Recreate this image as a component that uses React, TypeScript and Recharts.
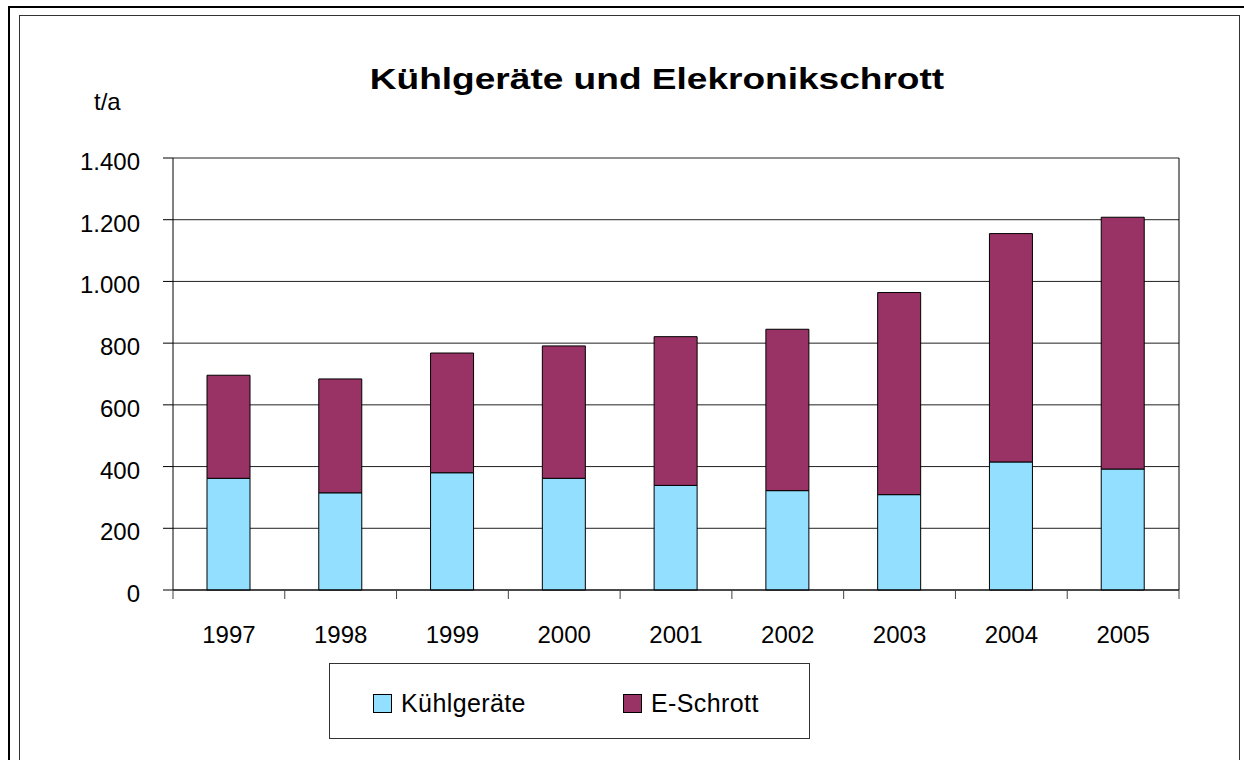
import { BarChart, Bar, XAxis, YAxis, CartesianGrid, Legend, ReferenceLine } from 'recharts'

const years = ['1997', '1998', '1999', '2000', '2001', '2002', '2003', '2004', '2005']
const kuehlgeraete = [362, 315, 380, 362, 339, 322, 309, 415, 392]
const eSchrott = [334, 369, 388, 429, 482, 523, 655, 740, 816]
const yTicks = [0, 200, 400, 600, 800, 1000, 1200, 1400]
const seriesOrder = ['kuehl', 'schrott']

const data = years.map((year, i) => ({
  year,
  kuehl: kuehlgeraete[i],
  schrott: eSchrott[i],
}))

const FONT = '"Liberation Sans", Arial, Helvetica, sans-serif'
const CHART_W = 1244
const CHART_H = 760
const Y_AXIS_W = 173
const MARGIN = { top: 158, right: 65, left: 0, bottom: 24 }
const BAND = (CHART_W - Y_AXIS_W - MARGIN.right) / years.length

// German thousands separator, e.g. 1.400
const fmt = (v: number) => String(v).replace(/\B(?=(\d{3})+(?!\d))/g, '.')

const YTick = ({ x, y, payload }: any) => (
  <text x={x} y={y} dy={12} textAnchor="end" fill="#000" fontSize={24} fontFamily={FONT}>
    {fmt(payload.value)}
  </text>
)

// Excel style: tick marks sit between the categories
const XTick = ({ x, y, payload, index }: any) => {
  const left = x - BAND / 2
  return (
    <g>
      <line x1={left} y1={y - 9} x2={left} y2={y} stroke="#444" />
      {index === years.length - 1 && (
        <line x1={x + BAND / 2} y1={y - 9} x2={x + BAND / 2} y2={y} stroke="#444" />
      )}
      <text x={x} y={y} dy={44} textAnchor="middle" fill="#000" fontSize={24} fontFamily={FONT}>
        {payload.value}
      </text>
    </g>
  )
}

const LegendBox = ({ payload }: any) => {
  const items = [...(payload || [])].sort(
    (a: any, b: any) => seriesOrder.indexOf(a.dataKey) - seriesOrder.indexOf(b.dataKey)
  )
  return (
    <div
      style={{
        width: 481,
        height: 76,
        boxSizing: 'border-box',
        border: '1px solid #333',
        background: '#fff',
        display: 'flex',
        alignItems: 'center',
        paddingTop: 5,
        paddingLeft: 43,
        fontFamily: FONT,
        fontSize: 25,
        letterSpacing: 0.4,
        color: '#000',
        overflow: 'hidden',
      }}
    >
      {items.map((p: any) => (
        <div key={p.value} style={{ display: 'flex', alignItems: 'center', width: 250, flexShrink: 0 }}>
          <span
            style={{
              display: 'inline-block',
              width: 19,
              height: 19,
              boxSizing: 'border-box',
              border: '1px solid #000',
              background: p.color,
              marginRight: 9,
            }}
          />
          <span>{p.value}</span>
        </div>
      ))}
    </div>
  )
}

export default function App() {
  return (
    <div
      style={{
        position: 'fixed',
        left: 0,
        top: 0,
        width: CHART_W,
        height: CHART_H,
        background: '#fff',
        overflow: 'hidden',
      }}
    >
      <div
        style={{
          position: 'absolute',
          left: 8,
          top: 6,
          width: 1300,
          height: 900,
          borderTop: '2px solid #000',
          borderLeft: '2px solid #000',
        }}
      />
      <div
        style={{
          position: 'absolute',
          left: 19,
          top: 15,
          width: 1219,
          height: 900,
          border: '1px solid #333',
        }}
      />
      <div
        style={{
          position: 'absolute',
          left: 0,
          top: 62,
          width: 1314,
          textAlign: 'center',
          lineHeight: '34px',
          fontFamily: FONT,
          fontWeight: 'bold',
          fontSize: 30,
          color: '#000',
          transform: 'scaleX(1.235)',
          transformOrigin: '657px 0',
        }}
      >
        Kühlgeräte und Elekronikschrott
      </div>
      <div
        style={{
          position: 'absolute',
          left: 94,
          top: 90,
          lineHeight: '24px',
          fontFamily: FONT,
          fontSize: 24,
          color: '#000',
        }}
      >
        t/a
      </div>
      <div style={{ position: 'absolute', left: 0, top: 0 }}>
        <BarChart width={CHART_W} height={CHART_H} data={data} margin={MARGIN}>
          <CartesianGrid vertical={false} stroke="#222" />
          <XAxis
            dataKey="year"
            axisLine={{ stroke: '#000' }}
            tickLine={false}
            tickSize={9}
            tickMargin={0}
            height={70}
            interval={0}
            tick={<XTick />}
          />
          <YAxis
            width={Y_AXIS_W}
            domain={[0, 1400]}
            ticks={yTicks}
            interval={0}
            axisLine={{ stroke: '#000' }}
            tickLine={{ stroke: '#000' }}
            tickSize={10}
            tickMargin={23}
            tick={<YTick />}
          />
          <ReferenceLine x="2005" position="end" stroke="#000" />
          <Legend
            verticalAlign="bottom"
            height={76}
            width={481}
            content={<LegendBox />}
            wrapperStyle={{ left: 329, top: 663, bottom: 'auto' }}
          />
          <Bar
            dataKey="kuehl"
            name="Kühlgeräte"
            stackId="a"
            fill="#93DFFF"
            stroke="#000"
            strokeWidth={1}
            barSize={43}
            isAnimationActive={false}
          />
          <Bar
            dataKey="schrott"
            name="E-Schrott"
            stackId="a"
            fill="#993366"
            stroke="#000"
            strokeWidth={1}
            barSize={43}
            isAnimationActive={false}
          />
        </BarChart>
      </div>
    </div>
  )
}
